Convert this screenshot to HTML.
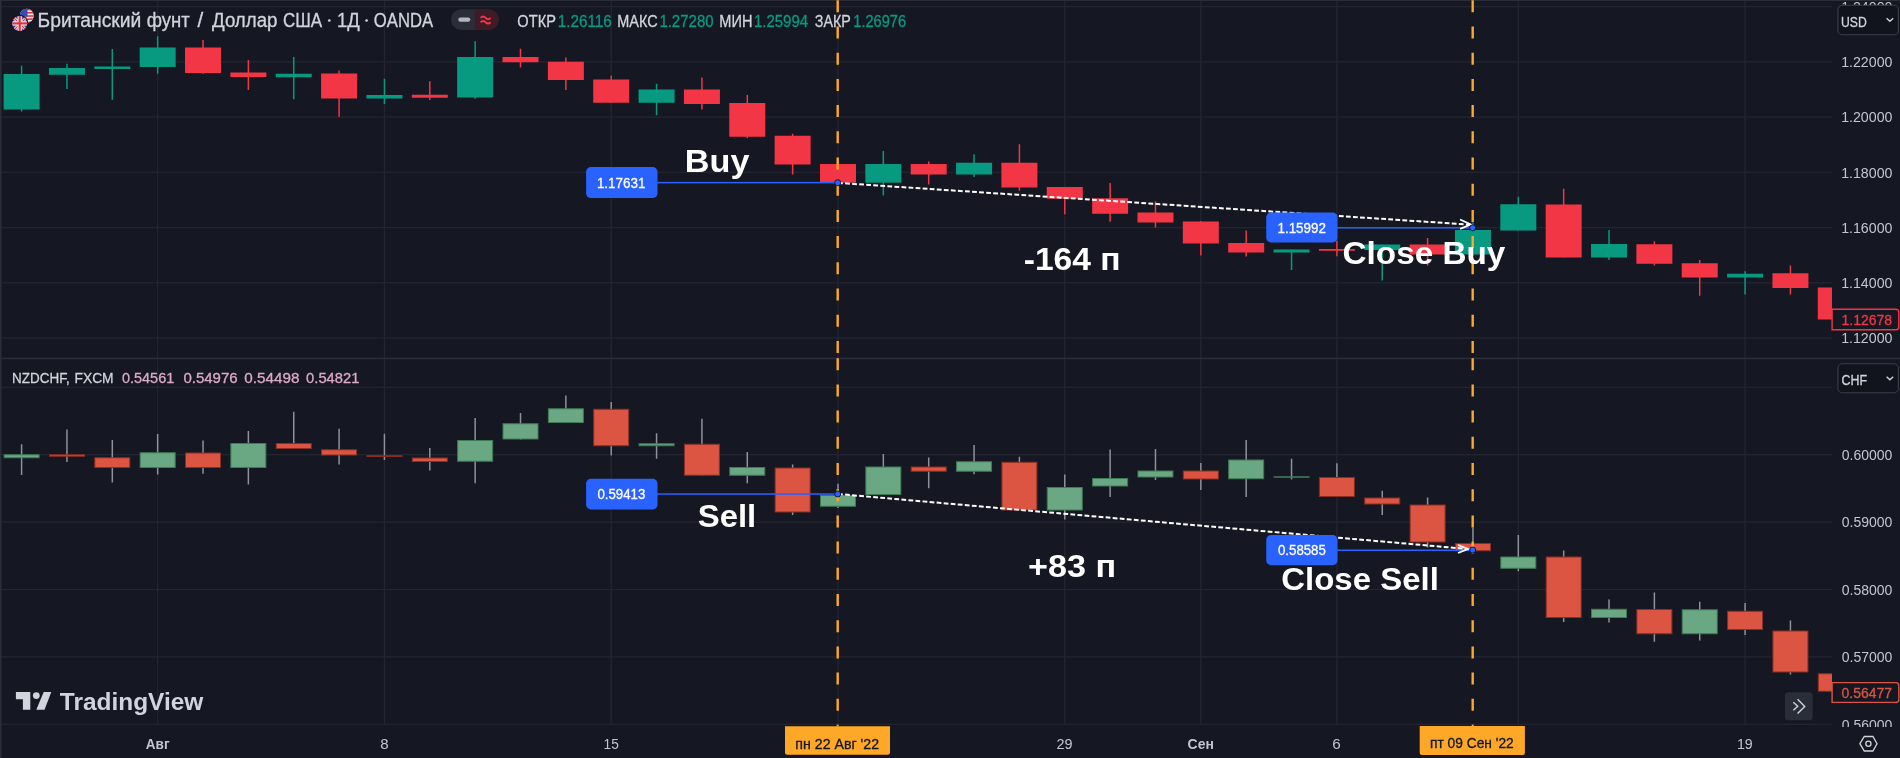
<!DOCTYPE html>
<html><head><meta charset="utf-8"><style>
html,body{margin:0;padding:0;background:#151822;}
body{width:1900px;height:758px;overflow:hidden;position:relative;}
svg{position:absolute;left:0;top:0;display:block;will-change:transform;}
text{font-family:"Liberation Sans",sans-serif;}
</style></head><body>
<svg width="1900" height="758" viewBox="0 0 1900 758" font-family="Liberation Sans, sans-serif">
<rect width="1900" height="758" fill="#151822"/>
<defs>
<clipPath id="ctop"><rect x="0" y="0" width="1832" height="358"/></clipPath>
<clipPath id="cbot"><rect x="0" y="359" width="1832" height="366"/></clipPath>
<clipPath id="cax1"><rect x="1832" y="0" width="68" height="357.6"/></clipPath>
<clipPath id="cax2"><rect x="1832" y="359.2" width="68" height="367.8"/></clipPath>
</defs>
<rect x="157.01" y="0" width="1.3" height="725" fill="#232632"/>
<rect x="383.79" y="0" width="1.3" height="725" fill="#232632"/>
<rect x="610.57" y="0" width="1.3" height="725" fill="#232632"/>
<rect x="837.34" y="0" width="1.3" height="725" fill="#232632"/>
<rect x="1064.11" y="0" width="1.3" height="725" fill="#232632"/>
<rect x="1200.18" y="0" width="1.3" height="725" fill="#232632"/>
<rect x="1336.24" y="0" width="1.3" height="725" fill="#232632"/>
<rect x="1517.66" y="0" width="1.3" height="725" fill="#232632"/>
<rect x="1744.44" y="0" width="1.3" height="725" fill="#232632"/>
<rect x="0" y="5.95" width="1832" height="1.3" fill="#232632"/>
<rect x="0" y="61.15" width="1832" height="1.3" fill="#232632"/>
<rect x="0" y="116.45" width="1832" height="1.3" fill="#232632"/>
<rect x="0" y="171.65" width="1832" height="1.3" fill="#232632"/>
<rect x="0" y="226.95" width="1832" height="1.3" fill="#232632"/>
<rect x="0" y="282.15" width="1832" height="1.3" fill="#232632"/>
<rect x="0" y="337.25" width="1832" height="1.3" fill="#232632"/>
<rect x="0" y="386.65" width="1832" height="1.3" fill="#232632"/>
<rect x="0" y="454.05" width="1832" height="1.3" fill="#232632"/>
<rect x="0" y="521.45" width="1832" height="1.3" fill="#232632"/>
<rect x="0" y="588.85" width="1832" height="1.3" fill="#232632"/>
<rect x="0" y="656.25" width="1832" height="1.3" fill="#232632"/>
<rect x="0" y="723.65" width="1832" height="1.3" fill="#232632"/>
<g clip-path="url(#ctop)">
<rect x="20.85" y="65.75" width="1.5" height="45.75" fill="#089981"/>
<rect x="3.6" y="74" width="36" height="35.5" fill="#089981"/>
<rect x="66.2" y="63.75" width="1.5" height="25.25" fill="#089981"/>
<rect x="48.95" y="68" width="36" height="6.75" fill="#089981"/>
<rect x="111.56" y="49" width="1.5" height="50.75" fill="#089981"/>
<rect x="94.31" y="66.5" width="36" height="2.5" fill="#089981"/>
<rect x="156.91" y="36.25" width="1.5" height="37.5" fill="#089981"/>
<rect x="139.66" y="47.5" width="36" height="19.5" fill="#089981"/>
<rect x="202.27" y="40" width="1.5" height="33.75" fill="#f23645"/>
<rect x="185.02" y="47.5" width="36" height="25.5" fill="#f23645"/>
<rect x="247.62" y="60" width="1.5" height="30" fill="#f23645"/>
<rect x="230.37" y="72.5" width="36" height="4.5" fill="#f23645"/>
<rect x="292.98" y="57" width="1.5" height="42.25" fill="#089981"/>
<rect x="275.73" y="73.75" width="36" height="3.5" fill="#089981"/>
<rect x="338.33" y="70.5" width="1.5" height="46.25" fill="#f23645"/>
<rect x="321.08" y="73.5" width="36" height="25" fill="#f23645"/>
<rect x="383.69" y="78.75" width="1.5" height="25.25" fill="#089981"/>
<rect x="366.44" y="95" width="36" height="3.5" fill="#089981"/>
<rect x="429.05" y="81.25" width="1.5" height="18.75" fill="#f23645"/>
<rect x="411.8" y="94.75" width="36" height="3" fill="#f23645"/>
<rect x="474.4" y="41.25" width="1.5" height="57.5" fill="#089981"/>
<rect x="457.15" y="57" width="36" height="40.5" fill="#089981"/>
<rect x="519.75" y="48.75" width="1.5" height="18.75" fill="#f23645"/>
<rect x="502.5" y="57" width="36" height="5.25" fill="#f23645"/>
<rect x="565.11" y="57.5" width="1.5" height="32.5" fill="#f23645"/>
<rect x="547.86" y="61.75" width="36" height="18.25" fill="#f23645"/>
<rect x="610.47" y="75.75" width="1.5" height="27" fill="#f23645"/>
<rect x="593.22" y="79.5" width="36" height="23.25" fill="#f23645"/>
<rect x="655.82" y="83.75" width="1.5" height="31.5" fill="#089981"/>
<rect x="638.57" y="89.5" width="36" height="13.25" fill="#089981"/>
<rect x="701.17" y="77.5" width="1.5" height="32" fill="#f23645"/>
<rect x="683.92" y="89.5" width="36" height="14.5" fill="#f23645"/>
<rect x="746.53" y="95" width="1.5" height="43.25" fill="#f23645"/>
<rect x="729.28" y="103" width="36" height="33.75" fill="#f23645"/>
<rect x="791.88" y="133.75" width="1.5" height="40.75" fill="#f23645"/>
<rect x="774.63" y="135.75" width="36" height="28.75" fill="#f23645"/>
<rect x="837.24" y="164" width="1.5" height="19" fill="#f23645"/>
<rect x="819.99" y="164" width="36" height="18.7" fill="#f23645"/>
<rect x="882.59" y="151" width="1.5" height="44.4" fill="#089981"/>
<rect x="865.34" y="164" width="36" height="18.7" fill="#089981"/>
<rect x="927.95" y="161.5" width="1.5" height="23" fill="#f23645"/>
<rect x="910.7" y="164" width="36" height="10.5" fill="#f23645"/>
<rect x="973.3" y="154.25" width="1.5" height="22.75" fill="#089981"/>
<rect x="956.05" y="162.75" width="36" height="11.75" fill="#089981"/>
<rect x="1018.66" y="144.25" width="1.5" height="46.5" fill="#f23645"/>
<rect x="1001.41" y="162.75" width="36" height="24.75" fill="#f23645"/>
<rect x="1064.01" y="187" width="1.5" height="27.25" fill="#f23645"/>
<rect x="1046.76" y="187" width="36" height="11.75" fill="#f23645"/>
<rect x="1109.37" y="183" width="1.5" height="38.75" fill="#f23645"/>
<rect x="1092.12" y="198.25" width="36" height="15.5" fill="#f23645"/>
<rect x="1154.72" y="201.25" width="1.5" height="26.25" fill="#f23645"/>
<rect x="1137.47" y="212.5" width="36" height="10" fill="#f23645"/>
<rect x="1200.08" y="221" width="1.5" height="34.5" fill="#f23645"/>
<rect x="1182.83" y="221.5" width="36" height="22" fill="#f23645"/>
<rect x="1245.43" y="230.5" width="1.5" height="26" fill="#f23645"/>
<rect x="1228.18" y="243" width="36" height="9.5" fill="#f23645"/>
<rect x="1290.79" y="249.5" width="1.5" height="20.5" fill="#089981"/>
<rect x="1273.54" y="249.5" width="36" height="3" fill="#089981"/>
<rect x="1336.14" y="240.75" width="1.5" height="15.5" fill="#f23645"/>
<rect x="1318.89" y="249" width="36" height="1.75" fill="#f23645"/>
<rect x="1381.5" y="244.5" width="1.5" height="36" fill="#089981"/>
<rect x="1364.25" y="244.5" width="36" height="5.5" fill="#089981"/>
<rect x="1426.85" y="238" width="1.5" height="27.5" fill="#f23645"/>
<rect x="1409.6" y="244.5" width="36" height="10" fill="#f23645"/>
<rect x="1472.21" y="222.4" width="1.5" height="33.6" fill="#089981"/>
<rect x="1454.96" y="230" width="36" height="24.5" fill="#089981"/>
<rect x="1517.56" y="196.75" width="1.5" height="33.75" fill="#089981"/>
<rect x="1500.31" y="204.25" width="36" height="26.25" fill="#089981"/>
<rect x="1562.92" y="188.75" width="1.5" height="68.75" fill="#f23645"/>
<rect x="1545.67" y="204.5" width="36" height="53" fill="#f23645"/>
<rect x="1608.27" y="230" width="1.5" height="30" fill="#089981"/>
<rect x="1591.02" y="244" width="36" height="13.5" fill="#089981"/>
<rect x="1653.63" y="241.25" width="1.5" height="24.25" fill="#f23645"/>
<rect x="1636.38" y="244.25" width="36" height="19.5" fill="#f23645"/>
<rect x="1698.98" y="260" width="1.5" height="35.75" fill="#f23645"/>
<rect x="1681.73" y="263.25" width="36" height="14.25" fill="#f23645"/>
<rect x="1744.34" y="271.25" width="1.5" height="23.25" fill="#089981"/>
<rect x="1727.09" y="273.75" width="36" height="3.75" fill="#089981"/>
<rect x="1789.69" y="265.5" width="1.5" height="29" fill="#f23645"/>
<rect x="1772.44" y="273.25" width="36" height="14.75" fill="#f23645"/>
<rect x="1835.05" y="285" width="1.5" height="35" fill="#f23645"/>
<rect x="1817.8" y="287.5" width="36" height="32" fill="#f23645"/>
</g>
<g clip-path="url(#cbot)">
<rect x="20.85" y="444.25" width="1.5" height="30.75" fill="#8e9199"/>
<rect x="4.1" y="454.75" width="35" height="3" fill="#6aa883" stroke="#3e7a52" stroke-width="1"/>
<rect x="66.2" y="429.5" width="1.5" height="32.5" fill="#8e9199"/>
<rect x="49.45" y="454.75" width="35" height="1.5" fill="#dc5542" stroke="#8a2e22" stroke-width="1"/>
<rect x="111.56" y="440" width="1.5" height="42.5" fill="#8e9199"/>
<rect x="94.81" y="457.75" width="35" height="9.75" fill="#dc5542" stroke="#8a2e22" stroke-width="1"/>
<rect x="156.91" y="434" width="1.5" height="40.5" fill="#8e9199"/>
<rect x="140.16" y="452.75" width="35" height="14.75" fill="#6aa883" stroke="#3e7a52" stroke-width="1"/>
<rect x="202.27" y="440.5" width="1.5" height="33.25" fill="#8e9199"/>
<rect x="185.52" y="453" width="35" height="14.5" fill="#dc5542" stroke="#8a2e22" stroke-width="1"/>
<rect x="247.62" y="431" width="1.5" height="53.5" fill="#8e9199"/>
<rect x="230.87" y="443.5" width="35" height="24" fill="#6aa883" stroke="#3e7a52" stroke-width="1"/>
<rect x="292.98" y="411.75" width="1.5" height="37.25" fill="#8e9199"/>
<rect x="276.23" y="443.5" width="35" height="5" fill="#dc5542" stroke="#8a2e22" stroke-width="1"/>
<rect x="338.33" y="428.75" width="1.5" height="35.75" fill="#8e9199"/>
<rect x="321.58" y="449.75" width="35" height="5.25" fill="#dc5542" stroke="#8a2e22" stroke-width="1"/>
<rect x="383.69" y="433.75" width="1.5" height="26.25" fill="#8e9199"/>
<rect x="366.94" y="455.75" width="35" height="0.75" fill="#8a2e22" stroke="#8a2e22" stroke-width="1"/>
<rect x="429.05" y="448" width="1.5" height="22.5" fill="#8e9199"/>
<rect x="412.3" y="458" width="35" height="3.5" fill="#dc5542" stroke="#8a2e22" stroke-width="1"/>
<rect x="474.4" y="418" width="1.5" height="65.25" fill="#8e9199"/>
<rect x="457.65" y="440.5" width="35" height="20.75" fill="#6aa883" stroke="#3e7a52" stroke-width="1"/>
<rect x="519.75" y="413" width="1.5" height="26.5" fill="#8e9199"/>
<rect x="503" y="423.75" width="35" height="15.25" fill="#6aa883" stroke="#3e7a52" stroke-width="1"/>
<rect x="565.11" y="395.5" width="1.5" height="27.5" fill="#8e9199"/>
<rect x="548.36" y="408.75" width="35" height="13.75" fill="#6aa883" stroke="#3e7a52" stroke-width="1"/>
<rect x="610.47" y="402" width="1.5" height="53.5" fill="#8e9199"/>
<rect x="593.72" y="409.25" width="35" height="36.5" fill="#dc5542" stroke="#8a2e22" stroke-width="1"/>
<rect x="655.82" y="433.25" width="1.5" height="25.5" fill="#8e9199"/>
<rect x="639.07" y="443.75" width="35" height="2" fill="#6aa883" stroke="#3e7a52" stroke-width="1"/>
<rect x="701.17" y="418.75" width="1.5" height="57" fill="#8e9199"/>
<rect x="684.42" y="444.25" width="35" height="31" fill="#dc5542" stroke="#8a2e22" stroke-width="1"/>
<rect x="746.53" y="452" width="1.5" height="31.25" fill="#8e9199"/>
<rect x="729.78" y="467.5" width="35" height="7.75" fill="#6aa883" stroke="#3e7a52" stroke-width="1"/>
<rect x="791.88" y="464.5" width="1.5" height="50.5" fill="#8e9199"/>
<rect x="775.13" y="468" width="35" height="44" fill="#dc5542" stroke="#8a2e22" stroke-width="1"/>
<rect x="837.24" y="483.75" width="1.5" height="24.25" fill="#8e9199"/>
<rect x="820.49" y="495.5" width="35" height="10.75" fill="#6aa883" stroke="#3e7a52" stroke-width="1"/>
<rect x="882.59" y="454" width="1.5" height="41" fill="#8e9199"/>
<rect x="865.84" y="467" width="35" height="27.5" fill="#6aa883" stroke="#3e7a52" stroke-width="1"/>
<rect x="927.95" y="457.5" width="1.5" height="30.75" fill="#8e9199"/>
<rect x="911.2" y="467" width="35" height="4.25" fill="#dc5542" stroke="#8a2e22" stroke-width="1"/>
<rect x="973.3" y="445" width="1.5" height="29.25" fill="#8e9199"/>
<rect x="956.55" y="461.75" width="35" height="9.5" fill="#6aa883" stroke="#3e7a52" stroke-width="1"/>
<rect x="1018.66" y="456.75" width="1.5" height="53.75" fill="#8e9199"/>
<rect x="1001.91" y="462.25" width="35" height="47.75" fill="#dc5542" stroke="#8a2e22" stroke-width="1"/>
<rect x="1064.01" y="474.5" width="1.5" height="45" fill="#8e9199"/>
<rect x="1047.26" y="487.5" width="35" height="22.5" fill="#6aa883" stroke="#3e7a52" stroke-width="1"/>
<rect x="1109.37" y="449.5" width="1.5" height="47.5" fill="#8e9199"/>
<rect x="1092.62" y="478.5" width="35" height="7.5" fill="#6aa883" stroke="#3e7a52" stroke-width="1"/>
<rect x="1154.72" y="449" width="1.5" height="31" fill="#8e9199"/>
<rect x="1137.97" y="471" width="35" height="6" fill="#6aa883" stroke="#3e7a52" stroke-width="1"/>
<rect x="1200.08" y="463" width="1.5" height="27" fill="#8e9199"/>
<rect x="1183.33" y="471" width="35" height="8" fill="#dc5542" stroke="#8a2e22" stroke-width="1"/>
<rect x="1245.43" y="440" width="1.5" height="57" fill="#8e9199"/>
<rect x="1228.68" y="460" width="35" height="18.75" fill="#6aa883" stroke="#3e7a52" stroke-width="1"/>
<rect x="1290.79" y="458.75" width="1.5" height="20.75" fill="#8e9199"/>
<rect x="1274.04" y="476.75" width="35" height="0.5" fill="#3e7a52" stroke="#3e7a52" stroke-width="1"/>
<rect x="1336.14" y="463.25" width="1.5" height="33.75" fill="#8e9199"/>
<rect x="1319.39" y="477.5" width="35" height="19" fill="#dc5542" stroke="#8a2e22" stroke-width="1"/>
<rect x="1381.5" y="490.75" width="1.5" height="24.25" fill="#8e9199"/>
<rect x="1364.75" y="498" width="35" height="6" fill="#dc5542" stroke="#8a2e22" stroke-width="1"/>
<rect x="1426.85" y="497.5" width="1.5" height="50" fill="#8e9199"/>
<rect x="1410.1" y="505" width="35" height="37" fill="#dc5542" stroke="#8a2e22" stroke-width="1"/>
<rect x="1472.21" y="527.5" width="1.5" height="23.75" fill="#8e9199"/>
<rect x="1455.46" y="543.5" width="35" height="7.25" fill="#dc5542" stroke="#8a2e22" stroke-width="1"/>
<rect x="1517.56" y="535" width="1.5" height="36.25" fill="#8e9199"/>
<rect x="1500.81" y="557" width="35" height="11.25" fill="#6aa883" stroke="#3e7a52" stroke-width="1"/>
<rect x="1562.92" y="550.5" width="1.5" height="71.5" fill="#8e9199"/>
<rect x="1546.17" y="557" width="35" height="60.5" fill="#dc5542" stroke="#8a2e22" stroke-width="1"/>
<rect x="1608.27" y="599.5" width="1.5" height="23" fill="#8e9199"/>
<rect x="1591.52" y="609.25" width="35" height="8.25" fill="#6aa883" stroke="#3e7a52" stroke-width="1"/>
<rect x="1653.63" y="592.5" width="1.5" height="49.25" fill="#8e9199"/>
<rect x="1636.88" y="609.5" width="35" height="24.25" fill="#dc5542" stroke="#8a2e22" stroke-width="1"/>
<rect x="1698.98" y="601.75" width="1.5" height="38.75" fill="#8e9199"/>
<rect x="1682.23" y="609.75" width="35" height="24" fill="#6aa883" stroke="#3e7a52" stroke-width="1"/>
<rect x="1744.34" y="603" width="1.5" height="32" fill="#8e9199"/>
<rect x="1727.59" y="611.25" width="35" height="18.25" fill="#dc5542" stroke="#8a2e22" stroke-width="1"/>
<rect x="1789.69" y="620.5" width="1.5" height="54" fill="#8e9199"/>
<rect x="1772.94" y="631" width="35" height="41" fill="#dc5542" stroke="#8a2e22" stroke-width="1"/>
<rect x="1835.05" y="672" width="1.5" height="20" fill="#8e9199"/>
<rect x="1818.3" y="673.75" width="35" height="17.5" fill="#dc5542" stroke="#8a2e22" stroke-width="1"/>
</g>
<g clip-path="url(#cax1)">
<text x="1841.16" y="11.9" font-size="15" fill="#c3c6ce" textLength="51.25" lengthAdjust="spacingAndGlyphs">1.24000</text>
<text x="1841.16" y="67.1" font-size="15" fill="#c3c6ce" textLength="51.25" lengthAdjust="spacingAndGlyphs">1.22000</text>
<text x="1841.16" y="122.4" font-size="15" fill="#c3c6ce" textLength="51.25" lengthAdjust="spacingAndGlyphs">1.20000</text>
<text x="1841.16" y="177.6" font-size="15" fill="#c3c6ce" textLength="51.25" lengthAdjust="spacingAndGlyphs">1.18000</text>
<text x="1841.16" y="232.9" font-size="15" fill="#c3c6ce" textLength="51.25" lengthAdjust="spacingAndGlyphs">1.16000</text>
<text x="1841.16" y="288.1" font-size="15" fill="#c3c6ce" textLength="51.25" lengthAdjust="spacingAndGlyphs">1.14000</text>
<text x="1841.16" y="343.2" font-size="15" fill="#c3c6ce" textLength="51.25" lengthAdjust="spacingAndGlyphs">1.12000</text>
</g>
<g clip-path="url(#cax2)">
<text x="1841.73" y="460" font-size="15" fill="#c3c6ce" textLength="50.67" lengthAdjust="spacingAndGlyphs">0.60000</text>
<text x="1841.73" y="527.4" font-size="15" fill="#c3c6ce" textLength="50.67" lengthAdjust="spacingAndGlyphs">0.59000</text>
<text x="1841.73" y="594.8" font-size="15" fill="#c3c6ce" textLength="50.67" lengthAdjust="spacingAndGlyphs">0.58000</text>
<text x="1841.73" y="662.2" font-size="15" fill="#c3c6ce" textLength="50.67" lengthAdjust="spacingAndGlyphs">0.57000</text>
<text x="1841.73" y="729.6" font-size="15" fill="#c3c6ce" textLength="50.67" lengthAdjust="spacingAndGlyphs">0.56000</text>
</g>
<rect x="0" y="0" width="1900" height="1" fill="#2a2e39"/>
<rect x="0" y="357.6" width="1900" height="1.6" fill="#2a2e39"/>
<rect x="0" y="0" width="1.6" height="758" fill="#2a2e39"/>
<line x1="837.7" y1="0.3" x2="837.7" y2="357.6" stroke="#ffa726" stroke-width="2.4" stroke-dasharray="12 14.2"/>
<line x1="837.7" y1="358.2" x2="837.7" y2="724.5" stroke="#ffa726" stroke-width="2.4" stroke-dasharray="12 14.2"/>
<line x1="1472.7" y1="0.3" x2="1472.7" y2="357.6" stroke="#ffa726" stroke-width="2.4" stroke-dasharray="12 14.2"/>
<line x1="1472.7" y1="358.2" x2="1472.7" y2="724.5" stroke="#ffa726" stroke-width="2.4" stroke-dasharray="12 14.2"/>
<rect x="657" y="181.9" width="181" height="1.5" fill="#2962ff"/>
<rect x="1337" y="227.05" width="136" height="1.5" fill="#2962ff"/>
<rect x="657" y="493.3" width="181" height="1.5" fill="#2962ff"/>
<rect x="1337" y="549.5" width="136" height="1.5" fill="#2962ff"/>
<line x1="838" y1="182.9" x2="1470.7" y2="224.7" stroke="#fff" stroke-width="2" stroke-dasharray="4.8 2.27"/>
<polyline points="1460.1,219.5 1470.7,224.5 1460.1,228.9" fill="none" stroke="#fff" stroke-width="1.8"/>
<line x1="838" y1="494" x2="1468" y2="549" stroke="#fff" stroke-width="2" stroke-dasharray="4.8 2.27"/>
<polyline points="1458,545 1468,549 1458,553" fill="none" stroke="#fff" stroke-width="1.8"/>
<circle cx="837.7" cy="182.7" r="3" fill="#2962ff" stroke="#0d1a40" stroke-width="1"/>
<circle cx="1472.7" cy="227.8" r="3" fill="#2962ff" stroke="#0d1a40" stroke-width="1"/>
<circle cx="837.7" cy="494" r="3" fill="#2962ff" stroke="#0d1a40" stroke-width="1"/>
<circle cx="1472.7" cy="550" r="3" fill="#2962ff" stroke="#0d1a40" stroke-width="1"/>
<rect x="586.1" y="167" width="71.4" height="31.1" rx="4.8" fill="#2962ff"/>
<rect x="1266.25" y="212.5" width="71.25" height="30" rx="4.8" fill="#2962ff"/>
<rect x="586.1" y="478.75" width="71.4" height="30.75" rx="4.8" fill="#2962ff"/>
<rect x="1266.25" y="535" width="71.25" height="30.25" rx="4.8" fill="#2962ff"/>
<text x="596.9" y="187.6" font-size="14.8" fill="#ffffff" stroke="#ffffff" stroke-width="0.3" textLength="48.47" lengthAdjust="spacingAndGlyphs">1.17631</text>
<text x="1277.45" y="233.1" font-size="14.8" fill="#ffffff" stroke="#ffffff" stroke-width="0.3" textLength="48.56" lengthAdjust="spacingAndGlyphs">1.15992</text>
<text x="597.45" y="499.3" font-size="14.8" fill="#ffffff" stroke="#ffffff" stroke-width="0.3" textLength="47.91" lengthAdjust="spacingAndGlyphs">0.59413</text>
<text x="1278" y="555.3" font-size="14.8" fill="#ffffff" stroke="#ffffff" stroke-width="0.3" textLength="47.82" lengthAdjust="spacingAndGlyphs">0.58585</text>
<text x="684.86" y="172.05" font-size="31.5" font-weight="bold" fill="#ffffff" textLength="64.62" lengthAdjust="spacingAndGlyphs">Buy</text>
<text x="1023.75" y="269.7" font-size="31.5" font-weight="bold" fill="#ffffff" textLength="96.87" lengthAdjust="spacingAndGlyphs">-164 п</text>
<text x="1342.56" y="264.1" font-size="31.5" font-weight="bold" fill="#ffffff" textLength="162.73" lengthAdjust="spacingAndGlyphs">Close Buy</text>
<text x="697.69" y="526.9" font-size="31.5" font-weight="bold" fill="#ffffff" textLength="58.56" lengthAdjust="spacingAndGlyphs">Sell</text>
<text x="1028.03" y="576.7" font-size="31.5" font-weight="bold" fill="#ffffff" textLength="88.12" lengthAdjust="spacingAndGlyphs">+83 п</text>
<text x="1281.17" y="590" font-size="31.5" font-weight="bold" fill="#ffffff" textLength="157.68" lengthAdjust="spacingAndGlyphs">Close Sell</text>
<path d="M1832.1 309.2 H1895.8 A3 3 0 0 1 1898.8 312.2 V326.7 A3 3 0 0 1 1895.8 329.7 H1832.1 Z" fill="#151822" stroke="#f23645" stroke-width="1.4"/>
<path d="M1832.1 682.6 H1895.8 A3 3 0 0 1 1898.8 685.6 V699.4 A3 3 0 0 1 1895.8 702.4 H1832.1 Z" fill="#151822" stroke="#dc5542" stroke-width="1.4"/>
<rect x="1837.9" y="5.3" width="60.5" height="29.5" rx="4.5" fill="#11141d" stroke="#3a3e4a" stroke-width="1.1"/><polyline points="1886.6,18.3 1889.9,21.3 1893.2,18.3" fill="none" stroke="#d1d4dc" stroke-width="1.4"/>
<rect x="1837.9" y="363.8" width="60.5" height="28.9" rx="4.5" fill="#11141d" stroke="#3a3e4a" stroke-width="1.1"/><polyline points="1886.6,376.8 1889.9,379.8 1893.2,376.8" fill="none" stroke="#d1d4dc" stroke-width="1.4"/>
<path d="M785 726.3 H890 V752.5 A2.2 2.2 0 0 1 887.8 754.7 H787.2 A2.2 2.2 0 0 1 785 752.5 Z" fill="#ffa726"/><rect x="836.7" y="724.6" width="2" height="2" fill="#ffa726"/>
<path d="M1419.7 726.1 H1524.9 V752.8 A2.2 2.2 0 0 1 1522.7 755 H1421.9 A2.2 2.2 0 0 1 1419.7 752.8 Z" fill="#ffa726"/><rect x="1471.7" y="724.6" width="2" height="2" fill="#ffa726"/>

<g>
 <clipPath id="cus"><circle cx="26.8" cy="15.8" r="7"/></clipPath>
 <g clip-path="url(#cus)">
  <rect x="19" y="8" width="16" height="16" fill="#f0f0f0"/>
  <rect x="19" y="8.8" width="16" height="1.6" fill="#e0333f"/>
  <rect x="19" y="12" width="16" height="1.6" fill="#e0333f"/>
  <rect x="19" y="15.2" width="16" height="1.6" fill="#e0333f"/>
  <rect x="19" y="18.4" width="16" height="1.6" fill="#e0333f"/>
  <rect x="19" y="21.6" width="16" height="1.6" fill="#e0333f"/>
  <rect x="19" y="8" width="8.5" height="8.5" fill="#2e4fb8"/>
 </g>
 <circle cx="19.7" cy="23.4" r="8.6" fill="#151822"/>
 <clipPath id="cuk"><circle cx="19.7" cy="23.4" r="7.5"/></clipPath>
 <g clip-path="url(#cuk)">
  <rect x="11" y="15" width="18" height="18" fill="#2e4fb8"/>
  <path d="M11 15 L29 33 M29 15 L11 33" stroke="#f0f0f0" stroke-width="3"/>
  <path d="M11 15 L29 33 M29 15 L11 33" stroke="#e0333f" stroke-width="1.2"/>
  <rect x="11" y="21.2" width="18" height="4.4" fill="#f0f0f0"/>
  <rect x="17.5" y="15" width="4.4" height="18" fill="#f0f0f0"/>
  <rect x="11" y="22.3" width="18" height="2.2" fill="#e0333f"/>
  <rect x="18.6" y="15" width="2.2" height="18" fill="#e0333f"/>
 </g>
</g>
<circle cx="329.3" cy="20.5" r="1.35" fill="#d1d4dc"/>
<circle cx="366.6" cy="20.5" r="1.35" fill="#d1d4dc"/>

<g>
 <rect x="451" y="9.3" width="47.7" height="20.7" rx="10.35" fill="#2a2e39"/>
 <path d="M474.8 9.3 H488.35 A10.35 10.35 0 0 1 488.35 30 H474.8 Z" fill="#3e1b25"/>
 <rect x="458.3" y="17.4" width="12" height="4.4" rx="2.2" fill="#b2b5be"/>
 <path d="M480.6 17.9 q2.5 -2.6 5 0 t5 0 M480.6 22.3 q2.5 -2.6 5 0 t5 0" stroke="#f23645" stroke-width="2" fill="none"/>
</g>

<g fill="#d1d4dc">
 <path d="M15.9 692.1 H30.3 V709.7 H22.9 V699.2 H15.9 Z"/>
 <circle cx="36.3" cy="695.6" r="3.4"/>
 <path d="M43.7 692.1 H51.3 L44.5 709.7 H36.3 Z"/>
</g>

<rect x="1784.9" y="692.2" width="27.8" height="28" rx="3.5" fill="#2a2e39"/>
<polyline points="1793.3,702.3 1797.8,706.3 1793.3,710.3" fill="none" stroke="#d1d4dc" stroke-width="1.4"/>
<polyline points="1797.6,699.3 1804.7,706.4 1797.6,713.5" fill="none" stroke="#d1d4dc" stroke-width="1.4"/>

<polygon points="1859.9,743.7 1864.3,736.5 1872.9,736.5 1877.0,743.7 1872.9,751.0 1864.3,751.0" fill="none" stroke="#d1d4dc" stroke-width="1.3"/>
<circle cx="1868.4" cy="743.7" r="2.6" fill="none" stroke="#d1d4dc" stroke-width="1.3"/>
<text x="37.62" y="26.85" font-size="19.5" fill="#d1d4dc" stroke="#d1d4dc" stroke-width="0.3" textLength="103.66" lengthAdjust="spacingAndGlyphs">Британский</text>
<text x="146.84" y="26.85" font-size="19.5" fill="#d1d4dc" stroke="#d1d4dc" stroke-width="0.3" textLength="42.97" lengthAdjust="spacingAndGlyphs">фунт</text>
<text x="197.4" y="26.85" font-size="19.5" fill="#d1d4dc" stroke="#d1d4dc" stroke-width="0.3" textLength="5.71" lengthAdjust="spacingAndGlyphs">/</text>
<text x="212" y="26.85" font-size="19.5" fill="#d1d4dc" stroke="#d1d4dc" stroke-width="0.3" textLength="65.51" lengthAdjust="spacingAndGlyphs">Доллар</text>
<text x="282.92" y="26.85" font-size="19.5" fill="#d1d4dc" stroke="#d1d4dc" stroke-width="0.3" textLength="39.19" lengthAdjust="spacingAndGlyphs">США</text>
<text x="336.97" y="26.85" font-size="19.5" fill="#d1d4dc" stroke="#d1d4dc" stroke-width="0.3" textLength="22.82" lengthAdjust="spacingAndGlyphs">1Д</text>
<text x="373.83" y="26.85" font-size="19.5" fill="#d1d4dc" stroke="#d1d4dc" stroke-width="0.3" textLength="59.27" lengthAdjust="spacingAndGlyphs">OANDA</text>
<text x="517.36" y="26.9" font-size="16" fill="#d1d4dc" stroke="#d1d4dc" stroke-width="0.3" textLength="38.54" lengthAdjust="spacingAndGlyphs">ОТКР</text>
<text x="557.76" y="26.9" font-size="16" fill="#089981" stroke="#089981" stroke-width="0.3" textLength="53.91" lengthAdjust="spacingAndGlyphs">1.26116</text>
<text x="617.33" y="26.9" font-size="16" fill="#d1d4dc" stroke="#d1d4dc" stroke-width="0.3" textLength="40.38" lengthAdjust="spacingAndGlyphs">МАКС</text>
<text x="659.38" y="26.9" font-size="16" fill="#089981" stroke="#089981" stroke-width="0.3" textLength="54.18" lengthAdjust="spacingAndGlyphs">1.27280</text>
<text x="719.32" y="26.9" font-size="16" fill="#d1d4dc" stroke="#d1d4dc" stroke-width="0.3" textLength="33.13" lengthAdjust="spacingAndGlyphs">МИН</text>
<text x="753.98" y="26.9" font-size="16" fill="#089981" stroke="#089981" stroke-width="0.3" textLength="54.1" lengthAdjust="spacingAndGlyphs">1.25994</text>
<text x="814.85" y="26.9" font-size="16" fill="#d1d4dc" stroke="#d1d4dc" stroke-width="0.3" textLength="36.04" lengthAdjust="spacingAndGlyphs">ЗАКР</text>
<text x="853.31" y="26.9" font-size="16" fill="#089981" stroke="#089981" stroke-width="0.3" textLength="52.73" lengthAdjust="spacingAndGlyphs">1.26976</text>
<text x="11.97" y="382.5" font-size="15" fill="#d1d4dc" stroke="#d1d4dc" stroke-width="0.3" textLength="57.67" lengthAdjust="spacingAndGlyphs">NZDCHF,</text>
<text x="74.5" y="382.5" font-size="15" fill="#d1d4dc" stroke="#d1d4dc" stroke-width="0.3" textLength="39.1" lengthAdjust="spacingAndGlyphs">FXCM</text>
<text x="122.02" y="382.5" font-size="15" fill="#dca9c8" stroke="#dca9c8" stroke-width="0.3" textLength="52.2" lengthAdjust="spacingAndGlyphs">0.54561</text>
<text x="183.4" y="382.5" font-size="15" fill="#dca9c8" stroke="#dca9c8" stroke-width="0.3" textLength="54.24" lengthAdjust="spacingAndGlyphs">0.54976</text>
<text x="244.29" y="382.5" font-size="15" fill="#dca9c8" stroke="#dca9c8" stroke-width="0.3" textLength="55.16" lengthAdjust="spacingAndGlyphs">0.54498</text>
<text x="306.11" y="382.5" font-size="15" fill="#dca9c8" stroke="#dca9c8" stroke-width="0.3" textLength="53.22" lengthAdjust="spacingAndGlyphs">0.54821</text>
<text x="1841.53" y="325" font-size="14.4" fill="#f23645" stroke="#f23645" stroke-width="0.3" textLength="50.56" lengthAdjust="spacingAndGlyphs">1.12678</text>
<text x="1841.51" y="697.8" font-size="14.4" fill="#dc5542" stroke="#dc5542" stroke-width="0.3" textLength="50.57" lengthAdjust="spacingAndGlyphs">0.56477</text>
<text x="1840.97" y="26.9" font-size="14.4" fill="#d1d4dc" stroke="#d1d4dc" stroke-width="0.3" textLength="25.74" lengthAdjust="spacingAndGlyphs">USD</text>
<text x="1841.6" y="385.1" font-size="14.4" fill="#d1d4dc" stroke="#d1d4dc" stroke-width="0.3" textLength="25.53" lengthAdjust="spacingAndGlyphs">CHF</text>
<text x="59.8" y="709.7" font-size="24.2" font-weight="bold" fill="#d1d4dc" textLength="143.52" lengthAdjust="spacingAndGlyphs">TradingView</text>
<text x="795.38" y="748.6" font-size="13.8" fill="#131722" stroke="#131722" stroke-width="0.3" textLength="83.72" lengthAdjust="spacingAndGlyphs">пн 22 Авг &#39;22</text>
<text x="1430" y="748.4" font-size="13.8" fill="#131722" stroke="#131722" stroke-width="0.3" textLength="83.77" lengthAdjust="spacingAndGlyphs">пт 09 Сен &#39;22</text>
<text x="145.84" y="748.9" font-size="15.3" font-weight="bold" fill="#c3c6ce" textLength="23.69" lengthAdjust="spacingAndGlyphs">Авг</text>
<text x="380.21" y="748.9" font-size="15.3" fill="#c3c6ce" textLength="8.39" lengthAdjust="spacingAndGlyphs">8</text>
<text x="603.62" y="748.9" font-size="15.3" fill="#c3c6ce" textLength="15.23" lengthAdjust="spacingAndGlyphs">15</text>
<text x="1056.54" y="748.9" font-size="15.3" fill="#c3c6ce" textLength="16.03" lengthAdjust="spacingAndGlyphs">29</text>
<text x="1187.55" y="748.9" font-size="15.3" font-weight="bold" fill="#c3c6ce" textLength="26.3" lengthAdjust="spacingAndGlyphs">Сен</text>
<text x="1332.3" y="748.9" font-size="15.3" fill="#c3c6ce" textLength="8.51" lengthAdjust="spacingAndGlyphs">6</text>
<text x="1736.98" y="748.9" font-size="15.3" fill="#c3c6ce" textLength="15.78" lengthAdjust="spacingAndGlyphs">19</text>
</svg>
</body></html>
